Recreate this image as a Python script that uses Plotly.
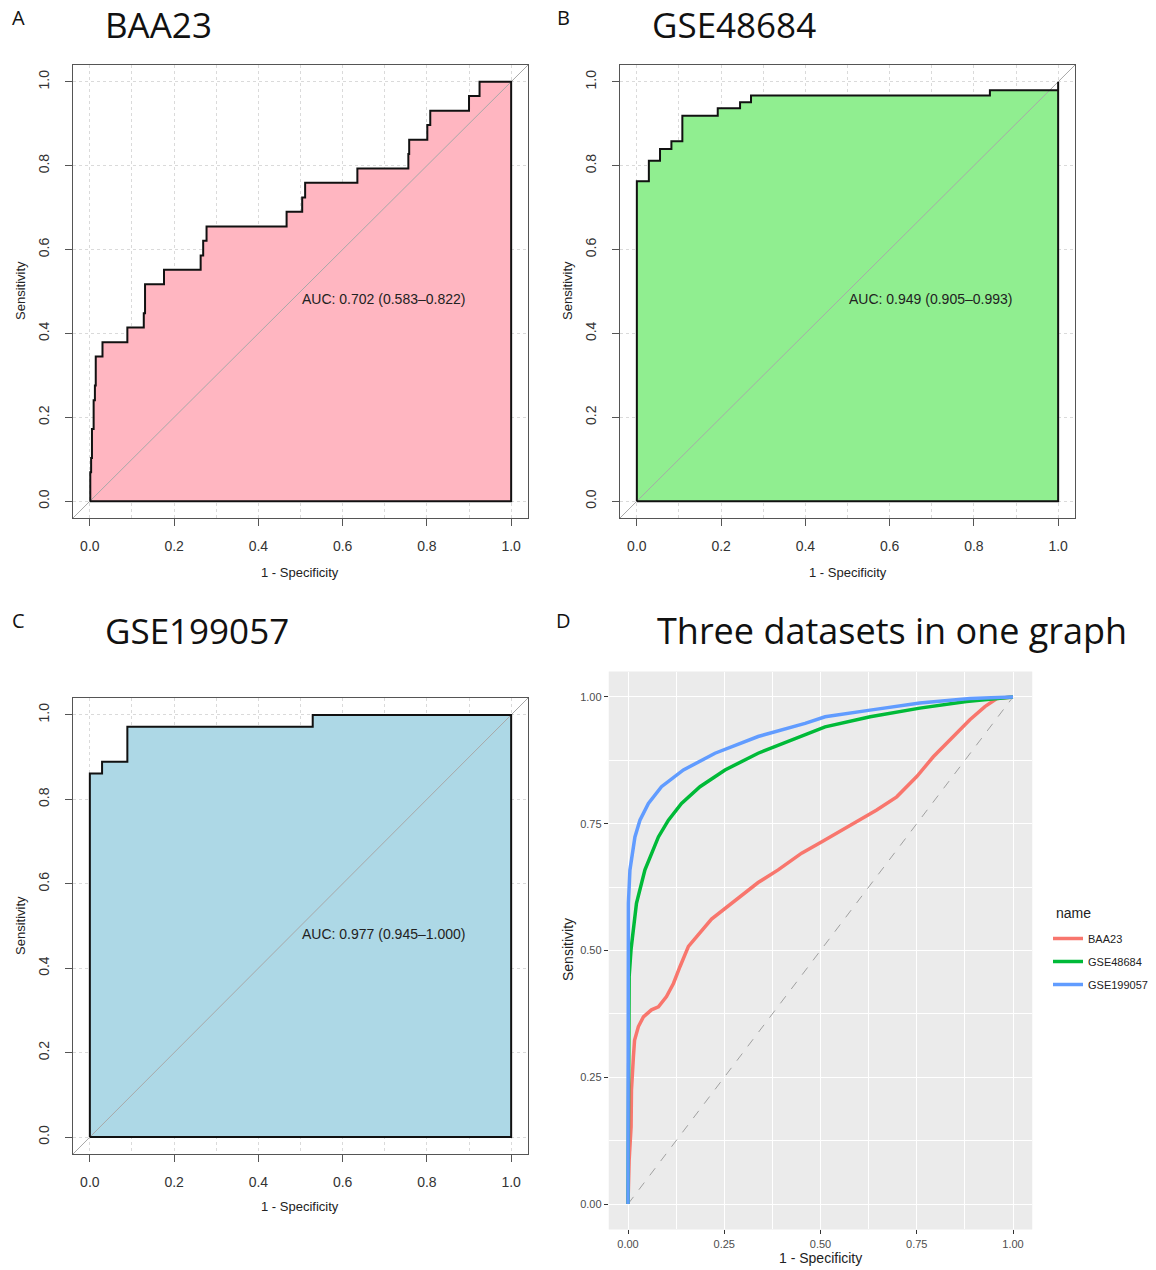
import plotly.graph_objects as go

W, H = 1156, 1270
FW, FH = W, H

# ---------------- data ----------------
# Panel A: BAA23 ROC step points (1 - specificity, sensitivity)
a_fpr = [0.0, 0.001, 0.003, 0.005, 0.009, 0.012, 0.014, 0.030, 0.089, 0.128, 0.131, 0.176,
         0.263, 0.269, 0.277, 0.467, 0.504, 0.511, 0.635, 0.756, 0.758, 0.801, 0.808,
         0.900, 0.925, 1.0]
a_tpr = [0.0, 0.069, 0.103, 0.172, 0.241, 0.276, 0.345, 0.379, 0.414, 0.448, 0.517, 0.552,
         0.586, 0.621, 0.655, 0.690, 0.724, 0.759, 0.793, 0.828, 0.862, 0.897, 0.931,
         0.966, 1.0, 1.0]
a_auc = "AUC: 0.702 (0.583\u20130.822)"

# Panel B: GSE48684
b_fpr = [0.0, 0.0, 0.0285, 0.055, 0.082, 0.108, 0.192, 0.245, 0.271, 0.838, 1.0]
b_tpr = [0.0, 0.763, 0.812, 0.840, 0.858, 0.919, 0.937, 0.951, 0.967, 0.980, 1.0]
b_auc = "AUC: 0.949 (0.905\u20130.993)"

# Panel C: GSE199057
c_fpr = [0.0, 0.0, 0.029, 0.089, 0.529, 1.0]
c_tpr = [0.0, 0.861, 0.889, 0.972, 1.0, 1.0]
c_auc = "AUC: 0.977 (0.945\u20131.000)"

# Panel D: smoothed curves
d_names = ["BAA23", "GSE48684", "GSE199057"]
d_red_x = [0, 0.001, 0.003, 0.008, 0.009, 0.014, 0.017, 0.027, 0.040, 0.061, 0.079, 0.100,
           0.118, 0.135, 0.157, 0.217, 0.269, 0.338, 0.390, 0.451, 0.507, 0.585, 0.646,
           0.698, 0.750, 0.793, 0.845, 0.888, 0.927, 0.958, 1.0]
d_red_y = [0, 0.040, 0.087, 0.152, 0.225, 0.290, 0.323, 0.350, 0.369, 0.383, 0.389, 0.409,
           0.435, 0.468, 0.508, 0.562, 0.593, 0.634, 0.659, 0.692, 0.716, 0.751, 0.777,
           0.803, 0.843, 0.882, 0.922, 0.955, 0.981, 0.997, 1.0]
d_green_x = [0, 0.003, 0.008, 0.022, 0.044, 0.079, 0.105, 0.139, 0.187, 0.252, 0.338, 0.451,
             0.512, 0.629, 0.758, 0.879, 1.0]
d_green_y = [0, 0.449, 0.503, 0.593, 0.659, 0.724, 0.757, 0.790, 0.823, 0.856, 0.889, 0.922,
             0.941, 0.961, 0.978, 0.991, 1.0]
d_blue_x = [0, 0.0, 0.001, 0.005, 0.018, 0.031, 0.053, 0.087, 0.144, 0.226, 0.338, 0.460,
            0.512, 0.629, 0.758, 0.888, 1.0]
d_blue_y = [0, 0.503, 0.593, 0.659, 0.724, 0.757, 0.790, 0.823, 0.856, 0.889, 0.922, 0.948,
            0.961, 0.974, 0.988, 0.997, 1.0]

r_ticks = [0.0, 0.2, 0.4, 0.6, 0.8, 1.0]
g_ticks = [0.0, 0.25, 0.5, 0.75, 1.0]

# ---------------- layout helpers (reference page pixels) ----------------
def dom_x(p0, p1):
    return [p0 / FW, p1 / FW]

def dom_y(p0, p1):  # p0 top pixel, p1 bottom pixel
    return [1 - p1 / FH, 1 - p0 / FH]

def paper_x(p):
    return p / FW

def paper_y(p):
    return 1 - p / FH

R_FONT = "Liberation Sans, Arial, sans-serif"
T_FONT = "Open Sans, Noto Sans, sans-serif"

fig = go.Figure()

panels = [
    ("x", "y", a_fpr, a_tpr, "#FFB6C1", a_auc),
    ("x2", "y2", b_fpr, b_tpr, "#90EE90", b_auc),
    ("x3", "y3", c_fpr, c_tpr, "#ADD8E6", c_auc),
]
for xa, ya, fx, ty, col, auc in panels:
    px = list(fx) + [1.0, 0.0]
    py = list(ty) + [0.0, 0.0]
    fig.add_trace(go.Scatter(x=px, y=py, xaxis=xa, yaxis=ya, mode="lines",
                             line=dict(shape="hv", width=0, color=col),
                             fill="toself", fillcolor=col, showlegend=False,
                             hoverinfo="skip"))
    fig.add_trace(go.Scatter(x=[-0.04, 1.04], y=[-0.04, 1.04], xaxis=xa, yaxis=ya,
                             mode="lines", line=dict(color="#A8A8A8", width=1),
                             showlegend=False, hoverinfo="skip"))
    fig.add_trace(go.Scatter(x=px, y=py, xaxis=xa, yaxis=ya, mode="lines",
                             line=dict(shape="hv", width=2, color="#111111"),
                             showlegend=False))
    fig.add_annotation(x=0.498, y=0.481, xref=xa, yref=ya, text=auc, showarrow=False,
                       xanchor="left", yanchor="middle",
                       font=dict(family=R_FONT, size=14, color="#222222"))

# Panel D
fig.add_trace(go.Scatter(x=[0, 1], y=[0, 1], xaxis="x4", yaxis="y4", mode="lines",
                         line=dict(color="#A0A0A0", width=1, dash="dash"),
                         showlegend=False, hoverinfo="skip"))
for nm, xs, ys, col in [(d_names[0], d_red_x, d_red_y, "#F8766D"),
                        (d_names[1], d_green_x, d_green_y, "#00BA38"),
                        (d_names[2], d_blue_x, d_blue_y, "#619CFF")]:
    fig.add_trace(go.Scatter(x=xs, y=ys, xaxis="x4", yaxis="y4", mode="lines", name=nm,
                             legendgroup=nm, line=dict(color=col, width=3.5)))

def r_xaxis(domain, anchor):
    return dict(domain=domain, anchor=anchor, range=[-0.04, 1.04], tickvals=r_ticks,
                ticktext=[f"{v:.1f}" for v in r_ticks], ticks="outside", ticklen=7,
                tickcolor="#555555", showline=True, mirror=True, linecolor="#555555",
                linewidth=1, showgrid=True, gridcolor="#DADADA", griddash="dot",
                gridwidth=1, minor=dict(dtick=0.1, tick0=0, showgrid=True,
                                        gridcolor="#DADADA", griddash="dot", ticks=""),
                zeroline=False, ticklabelstandoff=8,
                tickfont=dict(family=R_FONT, size=14, color="#333333"), fixedrange=True)

def r_yaxis(domain, anchor):
    return dict(domain=domain, anchor=anchor, range=[-0.04, 1.04], tickvals=r_ticks,
                ticktext=[f"{v:.1f}" for v in r_ticks], ticks="outside", ticklen=7,
                tickcolor="#555555", showline=True, mirror=True, linecolor="#555555",
                linewidth=1, showgrid=True, gridcolor="#DADADA", griddash="dot",
                zeroline=False, tickangle=-90, ticklabelstandoff=10,
                tickfont=dict(family=R_FONT, size=14, color="#333333"), fixedrange=True)

def g_axis(domain, anchor):
    return dict(domain=domain, anchor=anchor, range=[-0.05, 1.05],
                tickvals=g_ticks, ticktext=[f"{v:.2f}" for v in g_ticks],
                ticks="outside", ticklen=4, tickcolor="#333333", showline=False,
                showgrid=True, gridcolor="white", gridwidth=1.3, zeroline=False,
                minor=dict(dtick=0.125, tick0=0, showgrid=True, gridcolor="white",
                           gridwidth=0.6, ticks=""),
                tickfont=dict(family=R_FONT, size=11, color="#4D4D4D"), fixedrange=True)

layout = dict(
    width=FW, height=FH, margin=dict(l=0, r=0, t=0, b=0),
    paper_bgcolor="white", plot_bgcolor="rgba(0,0,0,0)",
    xaxis=r_xaxis(dom_x(73, 528), "y"),
    yaxis=r_yaxis(dom_y(65, 518), "x"),
    xaxis2=r_xaxis(dom_x(620, 1075), "y2"),
    yaxis2=r_yaxis(dom_y(65, 518), "x2"),
    xaxis3=r_xaxis(dom_x(73, 528), "y3"),
    yaxis3=r_yaxis(dom_y(698, 1154), "x3"),
    xaxis4=g_axis(dom_x(608.75, 1032.25), "y4"),
    yaxis4=g_axis(dom_y(671.6, 1229.4), "x4"),
    legend=dict(x=paper_x(1048), y=paper_y(924), xanchor="left", yanchor="top",
                font=dict(family=R_FONT, size=11, color="#222222"),
                tracegroupgap=4, bgcolor="rgba(0,0,0,0)", itemwidth=30),
    shapes=[dict(type="rect", xref="x4 domain", yref="y4 domain", x0=0, x1=1, y0=0, y1=1,
                 fillcolor="#EBEBEB", line=dict(width=0), layer="below")],
)
fig.update_layout(**layout)

def ann(x, y, text, size, family=R_FONT, angle=0, color="#222222", xanchor="center"):
    fig.add_annotation(x=paper_x(x), y=paper_y(y), xref="paper", yref="paper", text=text,
                       showarrow=False, xanchor=xanchor, yanchor="middle",
                       textangle=angle, font=dict(family=family, size=size, color=color))

# panel letters
ann(18, 17, "A", 20, T_FONT, color="#111111")
ann(563, 17, "B", 20, T_FONT, color="#111111")
ann(18, 620, "C", 20, T_FONT, color="#111111")
ann(563, 620, "D", 20, T_FONT, color="#111111")
# titles
ann(158, 24, "BAA23", 35, T_FONT, color="#111111")
ann(734, 24, "GSE48684", 35, T_FONT, color="#111111")
ann(197, 631, "GSE199057", 35, T_FONT, color="#111111")
ann(892, 631, "Three datasets in one graph", 36, T_FONT, color="#111111")
# axis titles
ann(300, 572, "1 - Specificity", 13)
ann(848, 572, "1 - Specificity", 13)
ann(300, 1206, "1 - Specificity", 13)
ann(821, 1258, "1 - Specificity", 14)
ann(21, 291, "Sensitivity", 13, angle=-90)
ann(568, 291, "Sensitivity", 13, angle=-90)
ann(21, 926, "Sensitivity", 13, angle=-90)
ann(568, 950, "Sensitivity", 14, angle=-90)
# legend title
ann(1054, 913, "name", 14, xanchor="left")

fig.write_html("out.html", config={"displayModeBar": False},
               post_script="document.body.style.margin='0px';document.body.style.overflow='hidden';")
